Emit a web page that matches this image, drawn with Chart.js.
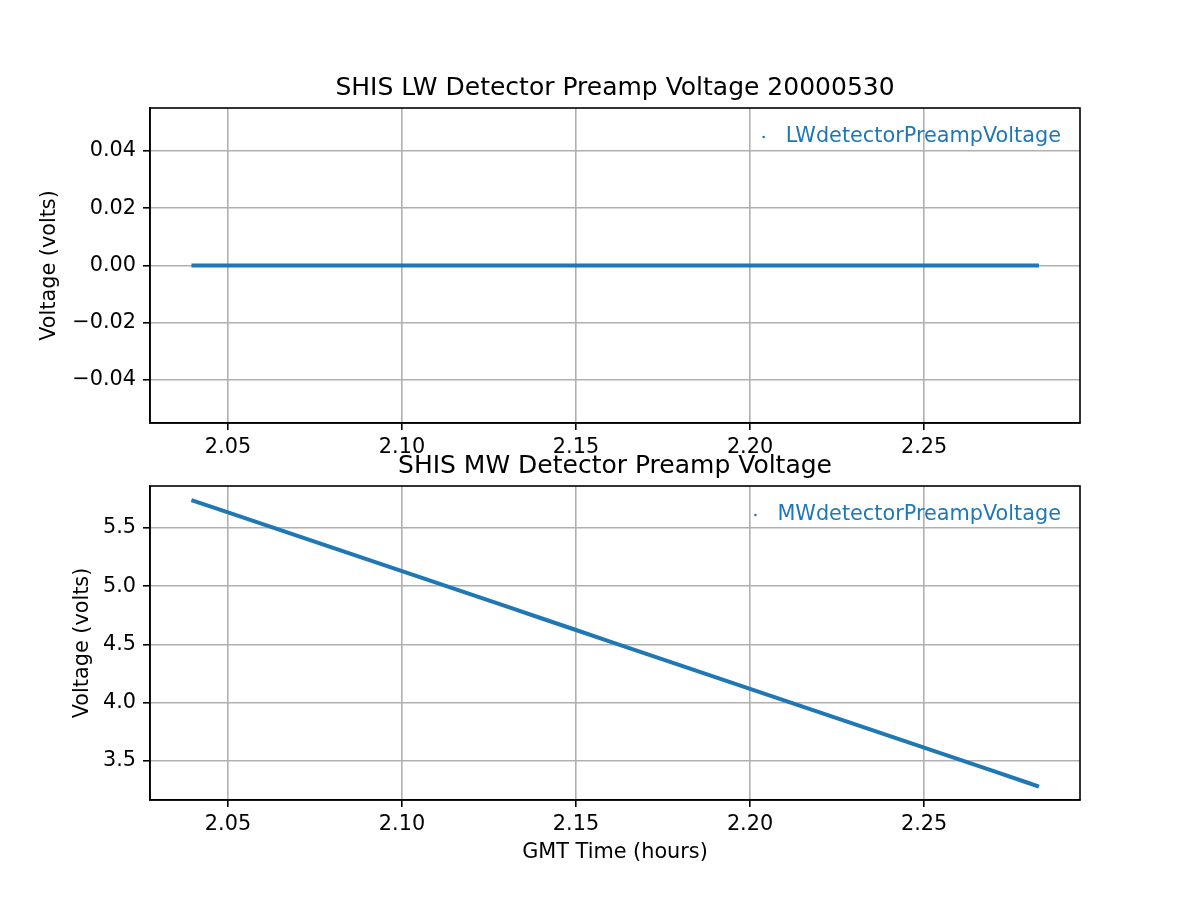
<!DOCTYPE html>
<html>
<head>
<meta charset="utf-8">
<script src="https://cdn.jsdelivr.net/npm/chart.js@4/dist/chart.umd.min.js"></script>
<style>
  body { margin: 0; background: #fff; }
  #wrap { position: relative; width: 1200px; height: 900px; }
  canvas { position: absolute; left: 0; }
  #lw { top: 0; }
  #mw { top: 440px; }
</style>
</head>
<body>
<div id="wrap">
  <canvas id="lw" width="1200" height="470"></canvas>
  <canvas id="mw" width="1200" height="460"></canvas>
</div>
<script>
// GMT time (hours) of the readings
const timeHours = [2.0395, 2.050, 2.060, 2.070, 2.080, 2.090, 2.100, 2.110, 2.120, 2.130,
                   2.140, 2.150, 2.160, 2.170, 2.180, 2.190, 2.200, 2.210, 2.220, 2.230,
                   2.240, 2.250, 2.260, 2.270, 2.280, 2.283]
const lwVolts = [0, 0, 0, 0, 0, 0, 0, 0, 0, 0,
                 0, 0, 0, 0, 0, 0, 0, 0, 0, 0,
                 0, 0, 0, 0, 0, 0]
const mwVolts = [5.739, 5.634, 5.533, 5.432, 5.331, 5.230, 5.129, 5.028, 4.927, 4.826,
                 4.725, 4.624, 4.523, 4.422, 4.321, 4.220, 4.119, 4.018, 3.917, 3.816,
                 3.715, 3.614, 3.513, 3.412, 3.311, 3.280]

const xTicks = [2.05, 2.10, 2.15, 2.20, 2.25]
const lwTicks = [-0.04, -0.02, 0.00, 0.02, 0.04]
const mwTicks = [3.5, 4.0, 4.5, 5.0, 5.5]

const blue = '#1f77b4'
const FONT = 'DejaVu Sans'
const tickFont = { family: FONT, size: 20.8 }

function minusSign(s) { return s.replace('-', '\u2212') }

// top and right spines
const frame = {
  id: 'frame',
  afterDraw(chart) {
    const { ctx, chartArea: a } = chart
    ctx.save()
    ctx.strokeStyle = '#000'
    ctx.lineWidth = 1.6
    ctx.strokeRect(a.left, a.top, a.right - a.left, a.bottom - a.top)
    ctx.restore()
  }
}

// matplotlib style legend, upper right, no frame
const legendIn = {
  id: 'legendIn',
  afterDatasetsDraw(chart) {
    const { ctx, chartArea: a } = chart
    const ds = chart.data.datasets[0]
    ctx.save()
    ctx.font = '20.8px ' + FONT
    ctx.textBaseline = 'middle'
    ctx.textAlign = 'right'
    ctx.fillStyle = ds.borderColor
    const y = a.top + 29
    const xr = a.right - 19
    ctx.fillText(ds.label, xr, y)
    const w = ctx.measureText(ds.label).width
    ctx.beginPath()
    ctx.arc(xr - w - 22, y, 1.3, 0, Math.PI * 2)
    ctx.fill()
    ctx.restore()
  }
}

function makeChart(id, o) {
  const ctx = document.getElementById(id).getContext('2d')
  return new Chart(ctx, {
    type: 'line',
    data: {
      datasets: [{
        label: o.label,
        data: timeHours.map((t, i) => ({ x: t, y: o.values[i] })),
        borderColor: blue,
        backgroundColor: blue,
        borderWidth: 4,
        pointRadius: 0,
        tension: 0,
        fill: false
      }]
    },
    options: {
      responsive: false,
      animation: false,
      layout: { padding: { left: 0, right: 120, top: 0, bottom: 0 } },
      plugins: {
        legend: { display: false },
        tooltip: { enabled: false },
        title: {
          display: true,
          text: o.title,
          fullSize: false,
          color: '#000',
          font: { family: FONT, size: 25, weight: 'normal', lineHeight: 1.2 },
          padding: o.titlePad
        }
      },
      scales: {
        x: {
          type: 'linear',
          min: 2.0276,
          max: 2.2948,
          afterBuildTicks: s => { s.ticks = xTicks.map(v => ({ value: v })) },
          afterFit: s => { s.height = o.xHeight },
          ticks: {
            color: '#000', font: tickFont, padding: 5, maxRotation: 0,
            callback: v => v.toFixed(2)
          },
          grid: { color: '#b0b0b0', lineWidth: 1.6, tickColor: '#000', tickLength: 7, tickWidth: 1.6 },
          border: { color: '#000', width: 1.6 },
          title: {
            display: o.xTitle !== '',
            text: o.xTitle,
            color: '#000',
            font: { family: FONT, size: 20.8, lineHeight: 1.2 },
            padding: { top: 0, bottom: 35 }
          }
        },
        y: {
          type: 'linear',
          min: o.yMin,
          max: o.yMax,
          afterBuildTicks: s => { s.ticks = o.yTicks.map(v => ({ value: v })) },
          afterFit: s => { s.width = 150 },
          ticks: {
            color: '#000', font: tickFont, padding: 7,
            callback: v => minusSign(v.toFixed(o.dec))
          },
          grid: { color: '#b0b0b0', lineWidth: 1.6, tickColor: '#000', tickLength: 7, tickWidth: 1.6 },
          border: { color: '#000', width: 1.6 },
          title: {
            display: true,
            text: 'Voltage (volts)',
            color: '#000',
            font: { family: FONT, size: 20.8, lineHeight: 1.2 },
            padding: { top: o.yTitlePad, bottom: 0 }
          }
        }
      }
    },
    plugins: [frame, legendIn]
  })
}

makeChart('lw', {
  label: 'LWdetectorPreampVoltage',
  title: 'SHIS LW Detector Preamp Voltage 20000530',
  values: lwVolts,
  titlePad: { top: 73, bottom: 5 },
  xHeight: 47,
  xTitle: '',
  yMin: -0.055, yMax: 0.055,
  yTicks: lwTicks, dec: 2,
  yTitlePad: 37
})

makeChart('mw', {
  label: 'MWdetectorPreampVoltage',
  title: 'SHIS MW Detector Preamp Voltage',
  values: mwVolts,
  titlePad: { top: 11, bottom: 5 },
  xHeight: 100,
  xTitle: 'GMT Time (hours)',
  yMin: 3.165, yMax: 5.86,
  yTicks: mwTicks, dec: 1,
  yTitlePad: 70
})
</script>
</body>
</html>
